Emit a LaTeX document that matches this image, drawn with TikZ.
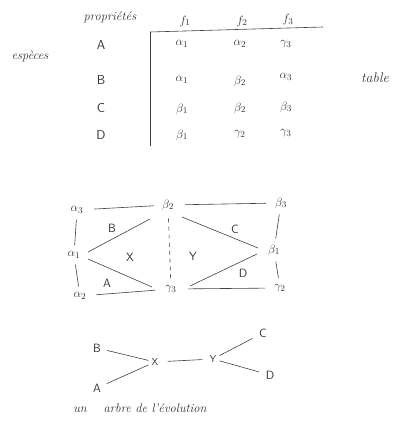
\documentclass[tikz,border=0pt]{standalone}
\begin{document}
\begin{tikzpicture}[x=1pt,y=-1pt,
  ink/.style={draw=black!75,line width=0.6pt},
  word/.style={text=black!80,font=\fontsize{12.5}{14}\selectfont\itshape},
  lab/.style={text=black!80,font=\fontsize{13}{15}\selectfont\sffamily},
  gk/.style={text=black!80,font=\fontsize{13}{15}\selectfont,inner sep=3pt},
  gl/.style={ink,shorten >=3pt,shorten <=3pt},
  tl/.style={text=black!80,font=\fontsize{12}{14}\selectfont\sffamily,inner sep=3pt}]
\useasboundingbox (0,0) rectangle (398,423);
% ---------- table ----------
\node[word] (prop) at (110,17) {propriétés};
\node[word] (esp) at (30,56) {espèces};
\node[word,font=\fontsize{14}{16}\selectfont\itshape] (tab) at (375,78) {table};
\node[gk] (f1) at (185,21) {$f_1$};
\node[gk] (f2) at (242,21) {$f_2$};
\node[gk] (f3) at (288,20) {$f_3$};
\coordinate (hl) at (150,32);
\coordinate (hr) at (323,27);
\coordinate (vb) at (150,146);
\draw[ink] (hl) -- (hr);
\draw[ink] (hl) -- (vb);
\node[lab] (rA) at (101,45) {A};
\node[lab] (rB) at (101,80) {B};
\node[lab] (rC) at (101,108) {C};
\node[lab] (rD) at (101,135) {D};
\node[gk] (a11) at (182,44) {$\alpha_1$};
\node[gk] (a12) at (240,44) {$\alpha_2$};
\node[gk] (a13) at (286,44) {$\gamma_3$};
\node[gk] (b11) at (182,80) {$\alpha_1$};
\node[gk] (b12) at (240,81) {$\beta_2$};
\node[gk] (b13) at (286,77) {$\alpha_3$};
\node[gk] (c11) at (182,109) {$\beta_1$};
\node[gk] (c12) at (240,108) {$\beta_2$};
\node[gk] (c13) at (286,107) {$\beta_3$};
\node[gk] (d11) at (182,135) {$\beta_1$};
\node[gk] (d12) at (240,134) {$\gamma_2$};
\node[gk] (d13) at (286,133) {$\gamma_3$};
% ---------- graph ----------
\node[gk] (ga3) at (77,210) {$\alpha_3$};
\node[gk] (gb2) at (168,205) {$\beta_2$};
\node[gk] (gb3) at (281,203) {$\beta_3$};
\node[gk] (ga1) at (74,255) {$\alpha_1$};
\node[gk] (gb1) at (274,250) {$\beta_1$};
\node[gk] (ga2) at (80,296) {$\alpha_2$};
\node[gk] (gc3) at (171,289) {$\gamma_3$};
\node[gk] (gc2) at (280,288) {$\gamma_2$};
\node[tl] (lB) at (112,228) {B};
\node[tl] (lX) at (130,257) {X};
\node[tl] (lY) at (193,256) {Y};
\node[tl] (lC) at (235,229) {C};
\node[tl] (lA) at (107,283) {A};
\node[tl] (lD) at (243,273) {D};
\draw[gl,shorten <=8pt,shorten >=5pt] (ga3) -- (gb2);
\draw[gl,shorten <=8pt,shorten >=6pt] (gb2) -- (gb3);
\draw[gl] (ga3) -- (ga1);
\draw[gl] (ga1) -- (ga2);
\draw[ink] ([shift={(14,-3)}]ga1.center) -- ([shift={(-18,14)}]gb2.center);
\draw[ink] ([shift={(14,4)}]ga1.center) -- ([shift={(-19,-2)}]gc3.center);
\draw[gl,shorten <=7pt,shorten >=7pt] (ga2) -- (gc3);
\draw[gl,dashed,dash pattern=on 4pt off 4pt,shorten <=5pt,shorten >=3pt] (gb2) -- (gc3);
\draw[ink] ([shift={(14,12)}]gb2.center) -- ([shift={(-16,-2)}]gb1.center);
\draw[ink] ([shift={(19,-3)}]gc3.center) -- ([shift={(-17,4)}]gb1.center);
\draw[gl,shorten <=8pt,shorten >=6pt] (gc3) -- (gc2);
\draw[gl] (gb3) -- (gb1);
\draw[gl] (gb1) -- (gc2);
% ---------- tree ----------
\node[tl] (tB) at (97,348) {B};
\node[tl] (tA) at (97,388) {A};
\node[tl,font=\fontsize{10}{12}\selectfont\sffamily] (tX) at (155,362) {X};
\node[tl,font=\fontsize{10}{12}\selectfont\sffamily] (tY) at (213,359) {Y};
\node[tl] (tC) at (263,333) {C};
\node[tl] (tD) at (270,375) {D};
\draw[gl,shorten <=3pt,shorten >=0pt] (tB) -- (tX);
\draw[gl,shorten <=3pt,shorten >=0pt] (tA) -- (tX);
\draw[gl,shorten <=6pt,shorten >=4pt] (tX) -- (tY);
\draw[gl,shorten <=0pt,shorten >=4pt] (tY) -- (tC);
\draw[gl,shorten <=0pt,shorten >=4pt] (tY) -- (tD);
\node[word] (cap) at (140,408) {un\quad\ arbre de l'évolution};
\end{tikzpicture}
\end{document}
